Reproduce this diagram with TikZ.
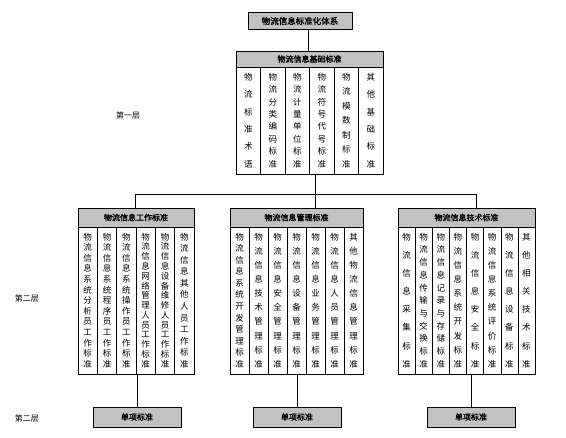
\documentclass[tikz,border=0pt]{standalone}
\usepackage{fontspec}
\newfontfamily\cjk{Noto Sans CJK SC}
\newfontfamily\cjkb[FakeBold=2]{Noto Sans CJK SC}
\newcount\chn
\def\countchars#1{\chn=0 \countA#1\relax}
\def\countA#1{\ifx\relax#1\else\advance\chn by 1 \expandafter\countA\fi}
\newtoks\vtoks
\def\vstack#1{\vtoks={}\vstackA#1\relax\the\vtoks}
\def\vstackA#1#2{\vtoks=\expandafter{\the\vtoks#1}\ifx\relax#2\else\vtoks=\expandafter{\the\vtoks\\}\expandafter\vstackA\expandafter#2\fi}
\newcommand\stdcol[5]{%
  \edef\colstr{#5}%
  \expandafter\countchars\expandafter{\colstr}%
  \pgfmathsetmacro\colsp{((#4)-(#3)-20)/(\the\chn-1)}%
  \node[coltext, font=\cjk\fontsize{8.5pt}{\colsp pt}\selectfont] (#1) at (#2,{((#3)+(#4))/2}) {\expandafter\vstack\expandafter{\colstr}};
}
\newcommand\stdgroup[8]{%
  \node[headbox, minimum width={(#3)-(#2)}, minimum height={(#5)-(#4)}] (#1) at ({((#2)+(#3))/2},{((#4)+(#5))/2}) {#7};
  \node[bodybox, minimum width={(#3)-(#2)}, minimum height={(#6)-(#5)}] (#1b) at ({((#2)+(#3))/2},{((#5)+(#6))/2}) {};
  \foreach \colname [count=\i] in {#8} {\xdef\ncols{\i}}
  \pgfmathsetmacro\colw{((#3)-(#2))/\ncols}
  \foreach \colname [count=\i] in {#8} {
    \pgfmathsetmacro\cx{(#2)+(\i-0.5)*\colw}
    \stdcol{#1-\i}{\cx}{#5}{#6}{\colname}
    \ifnum\i>1 \draw[sep] ({(#2)+(\i-1)*\colw},#5) -- ({(#2)+(\i-1)*\colw},#6); \fi
  }
}
\tikzset{
  headbox/.style={draw, line width=0.7pt, fill=black!24, inner sep=0pt, font=\cjkb\fontsize{8pt}{9pt}\selectfont},
  bodybox/.style={draw, line width=0.7pt, inner sep=0pt},
  coltext/.style={align=center, inner sep=0pt},
  sep/.style={line width=0.45pt},
  conn/.style={line width=0.6pt},
  lbl/.style={font=\cjk\fontsize{8pt}{9pt}\selectfont, inner sep=0pt}
}
\begin{document}
\begin{tikzpicture}[x=1pt, y=-1pt]
\useasboundingbox (0,0) rectangle (566,438);
% title
\node[headbox, minimum width=104, minimum height=17, font=\cjkb\fontsize{8.5pt}{9pt}\selectfont] (ttl) at (300,21) {物流信息标准化体系};
% base group
\stdgroup{base}{236}{383}{51}{67}{174}{物流信息基础标准}{物流标准术语,物流分类编码标准,物流计量单位标准,物流符号代号标准,物流模数制标准,其他基础标准}
% level 2 groups
\stdgroup{lft}{78}{194}{208}{227}{374}{物流信息工作标准}{物流信息系统分析员工作标准,物流信息系统程序员工作标准,物流信息系统操作员工作标准,物流信息网络管理人员工作标准,物流信息设备维修人员工作标准,物流信息其他人员工作标准}
\stdgroup{mid}{230}{363}{208}{227}{374}{物流信息管理标准}{物流信息系统开发管理标准,物流信息技术管理标准,物流信息安全管理标准,物流信息设备管理标准,物流信息业务管理标准,物流信息人员管理标准,其他物流信息管理标准}
\stdgroup{rgt}{398}{535}{208}{227}{374}{物流信息技术标准}{物流信息采集标准,物流信息传输与交换标准,物流信息记录与存储标准,物流信息系统开发标准,物流信息安全标准,物流信息系统评价标准,物流信息设备标准,其他相关技术标准}
% single standards
\node[headbox, minimum width=88, minimum height=20] (u1) at (137,417) {单项标准};
\node[headbox, minimum width=88, minimum height=20] (u2) at (297,417) {单项标准};
\node[headbox, minimum width=88, minimum height=20] (u3) at (471,417) {单项标准};
% layer labels
\node[lbl] (l1) at (128,115) {第一层};
\node[lbl] (l2) at (27,298) {第二层};
\node[lbl] (l3) at (27,418) {第二层};
% connectors
\coordinate (j0) at (308,0);
\coordinate (j1) at (315,194);
\coordinate (bl) at (135,194);
\coordinate (br) at (476,194);
\draw[conn] (ttl.south -| j0) -- (base.north -| j0);
\draw[conn] (baseb.south -| j1) -- (j1);
\draw[conn] (bl) -- (br);
\draw[conn] (bl) -- (bl |- lft.north);
\draw[conn] (j1) -- (j1 |- mid.north);
\draw[conn] (br) -- (br |- rgt.north);
\draw[conn] (lftb.south -| u1.north) -- (u1.north);
\draw[conn] (midb.south -| u2.north) -- (u2.north);
\draw[conn] (rgtb.south -| u3.north) -- (u3.north);
\end{tikzpicture}
\end{document}
